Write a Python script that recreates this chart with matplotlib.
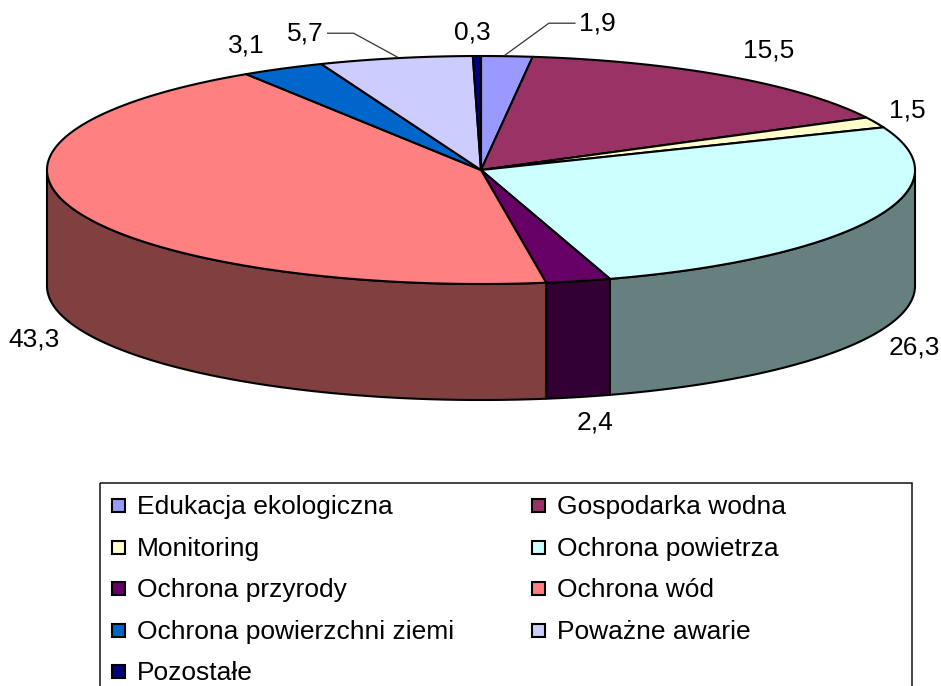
import numpy as np
import matplotlib.pyplot as plt
from matplotlib.patches import Polygon, Rectangle
from matplotlib.colors import to_rgb

plt.rcParams['font.family'] = ['Liberation Sans', 'DejaVu Sans']

##### data #####
categories = ['Edukacja ekologiczna', 'Gospodarka wodna', 'Monitoring', 'Ochrona powietrza',
              'Ochrona przyrody', 'Ochrona wód', 'Ochrona powierzchni ziemi', 'Poważne awarie',
              'Pozostałe']
shares = [1.9, 15.5, 1.5, 26.3, 2.4, 43.3, 3.1, 5.7, 0.3]
colors = ['#9999FF', '#993366', '#FFFFCC', '#CCFFFF', '#660066', '#FF8080', '#0066CC',
          '#CCCCFF', '#000080']

##### layout (pixels) #####
W, H = 941, 686
cx, cy, rx, ry, depth = 481, 170, 434, 114, 116
# label offsets from the rim point at each slice's mid angle
label_offsets = [(90, -33), (40, -26), (32, -12), (41, 13), (17, 25),
                 (-41, 13), (-36, -23), (-90, -25), (-5, -24)]
leaders = [0, 7]
fs = 19
edge_lw = 1.5

fig = plt.figure(figsize=(W / 100, H / 100), dpi=100)
ax = fig.add_axes([0, 0, 1, 1])
ax.set_xlim(0, W)
ax.set_ylim(H, 0)
ax.axis('off')


def rim(theta, drop=0.0):
    t = np.radians(theta)
    return cx + rx * np.sin(t), cy - ry * np.cos(t) + drop


# angles (degrees, clockwise from 12 o'clock)
total = sum(shares)
bounds = np.concatenate([[0], np.cumsum(shares)]) / total * 360

# side walls (front half only)
for i, c in enumerate(colors):
    lo, hi = max(bounds[i], 90), min(bounds[i + 1], 270)
    if hi <= lo:
        continue
    ts = np.linspace(lo, hi, 120)
    tx, ty = rim(ts)
    bx, by = rim(ts[::-1], depth)
    pts = np.column_stack([np.concatenate([tx, bx]), np.concatenate([ty, by])])
    dark = tuple(0.5 * v for v in to_rgb(c))
    ax.add_patch(Polygon(pts, closed=True, facecolor=dark, edgecolor='black',
                         lw=edge_lw, joinstyle='round'))

# top faces
for i, c in enumerate(colors):
    ts = np.linspace(bounds[i], bounds[i + 1], 200)
    ax_, ay_ = rim(ts)
    pts = np.column_stack([np.concatenate([[cx], ax_]), np.concatenate([[cy], ay_])])
    ax.add_patch(Polygon(pts, closed=True, facecolor=c, edgecolor='black',
                         lw=edge_lw, joinstyle='round'))

# value labels
for i, v in enumerate(shares):
    m = (bounds[i] + bounds[i + 1]) / 2
    drop = depth if np.cos(np.radians(m)) < 0 else 0
    px, py = rim(m, drop)
    dx, dy = label_offsets[i]
    tx, ty = px + dx, py + dy
    ax.text(tx, ty, f'{v:.1f}'.replace('.', ','), fontsize=fs, ha='center', va='center')
    if i in leaders:
        s = np.sign(dx)
        ax.plot([px - s * 2, tx - s * 48, tx - s * 22], [py - 1, ty, ty],
                color='#333333', lw=0.9)

# legend box
ax.add_patch(Rectangle((100, 483), 812, 240, facecolor='none', edgecolor='#111111', lw=1.1))
col_x = [119, 539]
row_y0, row_step = 505.5, 41.6
for i, (name, c) in enumerate(zip(categories, colors)):
    col, row = i % 2, i // 2
    x, y = col_x[col], row_y0 + row * row_step
    ax.add_patch(Rectangle((x - 6.5, y - 6.5), 13, 13, facecolor=c, edgecolor='black', lw=1.5))
    ax.text(x + 18, y + 8.5, name, fontsize=fs, ha='left', va='baseline')

fig.savefig('out.png', dpi=100)
